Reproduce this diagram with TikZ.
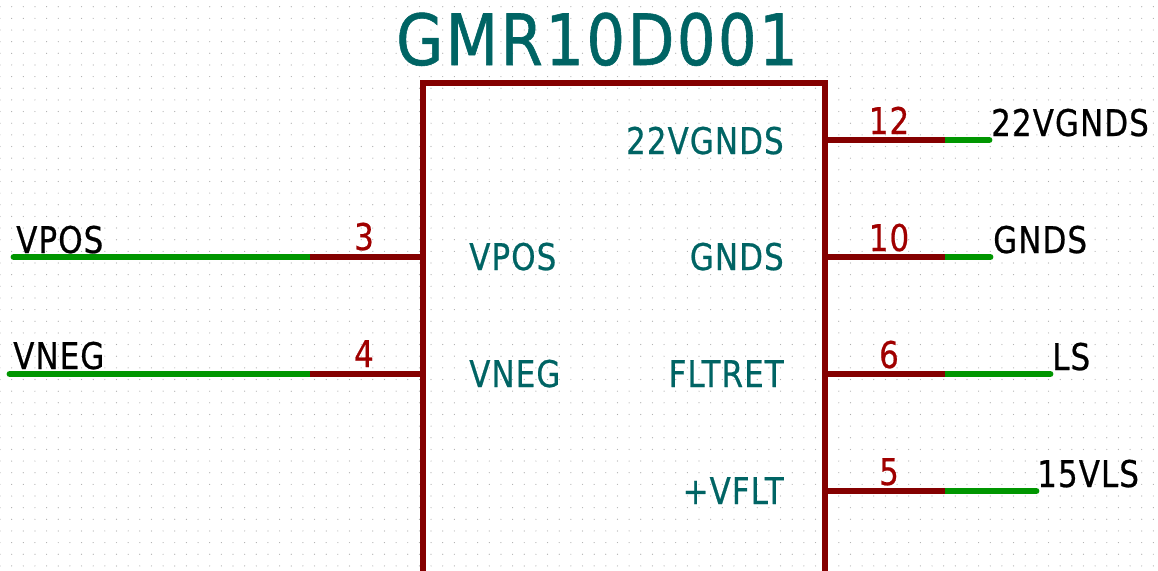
\documentclass[tikz,border=0pt]{standalone}
\usepackage{fontspec}
\newfontfamily\schfont[FakeStretch=0.84,LetterSpace=3,FakeBold=0.6]{DejaVu Sans}
\newfontfamily\titlefont[FakeStretch=0.86,LetterSpace=3.5,FakeBold=0.8]{DejaVu Sans}
\usepackage{xcolor}
\definecolor{PinRed}{RGB}{132,0,0}
\definecolor{WireGreen}{RGB}{0,150,0}
\definecolor{TextTeal}{RGB}{0,100,100}
\definecolor{NumRed}{RGB}{160,0,0}
\tikzset{
  wire/.style={line width=5.2pt,WireGreen,line cap=round},
  pin/.style={line width=5.2pt,PinRed},
  pintext/.style={inner sep=0pt,TextTeal,font=\schfont\fontsize{27.6}{27.6}\selectfont},
  pinnum/.style={inner sep=0pt,NumRed,font=\schfont\fontsize{27.6}{27.6}\selectfont},
  netname/.style={inner sep=0pt,black,font=\schfont\fontsize{27.6}{27.6}\selectfont}
}
\begin{document}
\begin{tikzpicture}[x=0.75pt,y=-0.75pt]
  \path[use as bounding box,fill=white] (0,0) rectangle (1158,571);
  % grid
  \foreach \i in {0,...,99} {
    \foreach \j in {0,...,48} {
      \fill[black!32] ({\i*11.65},{6.7+\j*11.65}) circle (0.6);
    }
  }
  \coordinate (TL) at (423,83); \coordinate (TR) at (825,83);
  \coordinate (BL) at (423,600); \coordinate (BR) at (825,600);
  \node[inner sep=0pt,TextTeal,font=\titlefont\fontsize{53}{53}\selectfont,anchor=base]
    (title) at (597,65) {GMR10D001};
  % left pins
  \coordinate (P3) at (423,257); \coordinate (J3) at (310,257); \coordinate (W3) at (14,257);
  \coordinate (P4) at (423,374); \coordinate (J4) at (310,374); \coordinate (W4) at (10,374);
  \draw[wire] (W3) -- (J3);
  \draw[wire] (W4) -- (J4);
  \draw[pin] (J3) -- (P3);
  \draw[pin] (J4) -- (P4);
  % right pins
  \coordinate (P12) at (825,140); \coordinate (J12) at (945,140); \coordinate (W12) at (989,140);
  \coordinate (P10) at (825,257); \coordinate (J10) at (945,257); \coordinate (W10) at (990,257);
  \coordinate (P6) at (825,374); \coordinate (J6) at (945,374); \coordinate (W6) at (1050,374);
  \coordinate (P5) at (825,491); \coordinate (J5) at (945,491); \coordinate (W5) at (1036,491);
  \draw[wire] (J12) -- (W12);
  \draw[wire] (J10) -- (W10);
  \draw[wire] (J6) -- (W6);
  \draw[wire] (J5) -- (W5);
  \draw[pin] (P12) -- (J12);
  \draw[pin] (P10) -- (J10);
  \draw[pin] (P6) -- (J6);
  \draw[pin] (P5) -- (J5);
  \draw[pin,line join=miter] (BL) -- (TL) -- (TR) -- (BR);
  % pin numbers
  \node[pinnum,anchor=base] (n3) at (364,250) {3};
  \node[pinnum,anchor=base] (n4) at (364,367) {4};
  \node[pinnum,anchor=base] (n12) at (889,134) {12};
  \node[pinnum,anchor=base] (n10) at (889,251) {10};
  \node[pinnum,anchor=base] (n6) at (889,368) {6};
  \node[pinnum,anchor=base] (n5) at (889,485) {5};
  % pin names
  \node[pintext,anchor=base west] (vpos) at (469,270) {VPOS};
  \node[pintext,anchor=base west] (vneg) at (469,387) {VNEG};
  \node[pintext,anchor=base east] (t22) at (784,154) {22VGNDS};
  \node[pintext,anchor=base east] (tgnds) at (784,270) {GNDS};
  \node[pintext,anchor=base east] (tflt) at (784,387) {FLTRET};
  \node[pintext,anchor=base east] (tvflt) at (784,504) {+VFLT};
  % net names
  \node[netname,anchor=base west] (lpos) at (16,253) {VPOS};
  \node[netname,anchor=base west] (lneg) at (13,369) {VNEG};
  \node[netname,anchor=base west] (l22) at (991,136) {22VGNDS};
  \node[netname,anchor=base west] (lgnds) at (993,253) {GNDS};
  \node[netname,anchor=base west] (lls) at (1052,370) {LS};
  \node[netname,anchor=base west] (l15) at (1037,487) {15VLS};
\end{tikzpicture}
\end{document}
